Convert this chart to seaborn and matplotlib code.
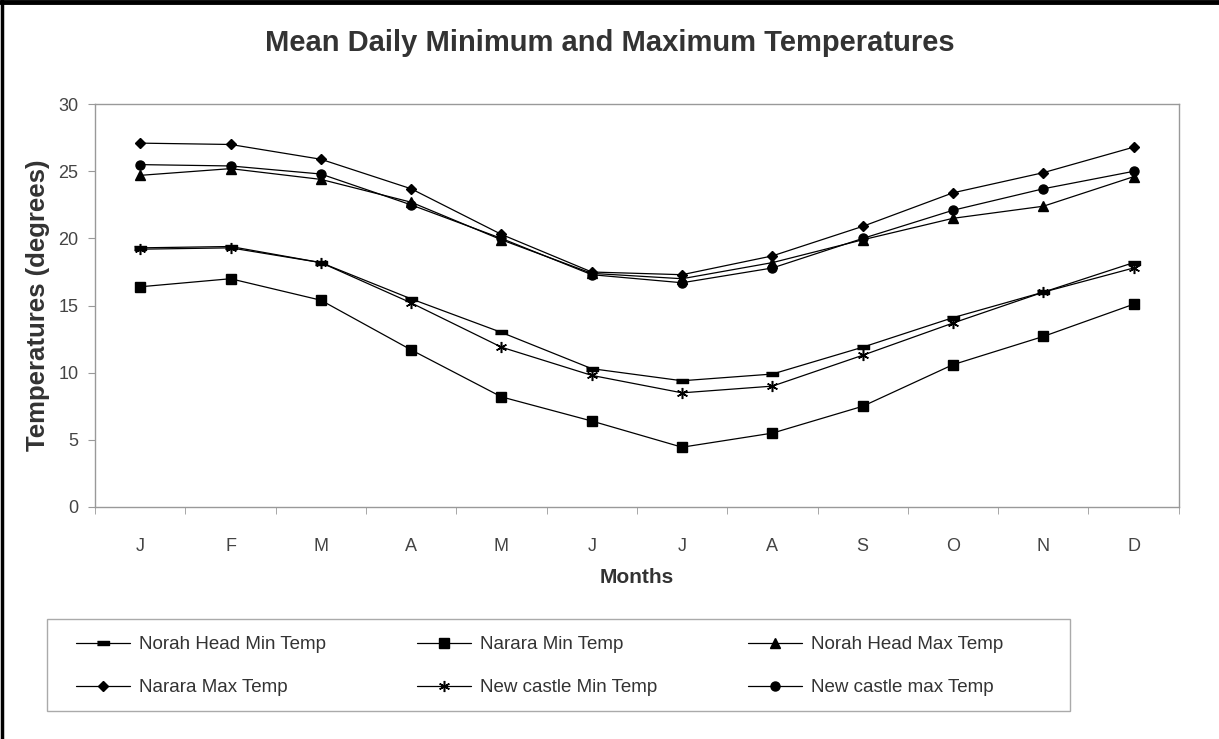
import pandas as pd
import numpy as np
import matplotlib
matplotlib.use('Agg')
import matplotlib.pyplot as plt
import seaborn as sns
from matplotlib.lines import Line2D
from matplotlib.patches import Rectangle

months = ['J', 'F', 'M', 'A', 'M', 'J', 'J', 'A', 'S', 'O', 'N', 'D']

norah_min = [19.3, 19.4, 18.2, 15.5, 13.0, 10.3, 9.4, 9.9, 11.9, 14.1, 16.0, 18.2]
narara_min = [16.4, 17.0, 15.4, 11.7, 8.2, 6.4, 4.45, 5.5, 7.5, 10.6, 12.7, 15.1]
norah_max = [24.7, 25.2, 24.4, 22.7, 19.9, 17.4, 17.0, 18.2, 19.9, 21.5, 22.4, 24.6]
narara_max = [27.1, 27.0, 25.9, 23.7, 20.3, 17.5, 17.3, 18.7, 20.9, 23.4, 24.9, 26.8]
newc_min = [19.2, 19.3, 18.2, 15.2, 11.9, 9.8, 8.5, 9.0, 11.3, 13.7, 16.0, 17.8]
newc_max = [25.5, 25.4, 24.8, 22.5, 20.0, 17.3, 16.7, 17.8, 20.0, 22.1, 23.7, 25.0]

series_names = ['Norah Head Min Temp', 'Narara Min Temp', 'Norah Head Max Temp',
                'Narara Max Temp', 'New castle Min Temp', 'New castle max Temp']
series_vals = [norah_min, narara_min, norah_max, narara_max, newc_min, newc_max]

rows = []
for name, vals in zip(series_names, series_vals):
    for i, v in enumerate(vals):
        rows.append({'month': i, 'temp': v, 'series': name})
df = pd.DataFrame(rows)

sns.set_style('white')
plt.rcParams['font.family'] = ['Liberation Sans', 'DejaVu Sans']

dash = [(-1, -0.4), (1, -0.4), (1, 0.4), (-1, 0.4)]
markers = {
    'Norah Head Min Temp': dash,
    'Narara Min Temp': 's',
    'Norah Head Max Temp': '^',
    'Narara Max Temp': 'D',
    'New castle Min Temp': 'X',   # swapped for an asterisk below
    'New castle max Temp': 'o',
}
sizes_pt = {'Norah Head Min Temp': 8, 'Narara Min Temp': 7, 'Norah Head Max Temp': 6.5,
            'Narara Max Temp': 5, 'New castle Min Temp': 8, 'New castle max Temp': 6.5}

fig = plt.figure(figsize=(12.19, 7.39), dpi=100)
ax = fig.add_axes([0.078, 0.314, 0.889, 0.545])

sns.lineplot(data=df, x='month', y='temp', hue='series', style='series',
             palette={n: 'black' for n in series_names}, markers=markers,
             dashes=False, linewidth=0.9, markersize=7, mec='black', mew=1, ax=ax)

handles, labels = ax.get_legend_handles_labels()
hmap = dict(zip(labels, handles))

def fix(line, lab):
    line.set_markersize(sizes_pt[lab])
    if lab == 'New castle Min Temp':
        line.set_marker((6, 2, 0))
        line.set_markeredgewidth(1.1)

# seaborn draws the lines in hue order
for line, lab in zip(ax.lines[:len(series_names)], series_names):
    fix(line, lab)
for lab, h in hmap.items():
    if lab in sizes_pt:
        fix(h, lab)

ax.set_xlim(-0.5, 11.5)
ax.set_ylim(0, 30)
ax.set_yticks(range(0, 31, 5))
ax.set_xticks(range(12))
ax.set_xticklabels(months)
ax.set_xticks(np.arange(-0.5, 12, 1), minor=True)
ax.tick_params(axis='x', which='major', length=0, pad=22, labelsize=13, labelcolor='#444444')
ax.tick_params(axis='x', which='minor', length=5, color='#999999', bottom=True)
ax.tick_params(axis='y', length=5, color='#999999', left=True, pad=7, labelsize=13,
               labelcolor='#444444')
for s in ax.spines.values():
    s.set_color('#999999')
    s.set_linewidth(1)

ax.set_xlabel('Months', fontsize=15, fontweight='bold', color='#333333', labelpad=10)
ax.set_ylabel('Temperatures (degrees)', fontsize=18.5, fontweight='bold', color='#333333',
              labelpad=6)
fig.text(0.5, 1 - 43 / 739, 'Mean Daily Minimum and Maximum Temperatures', fontsize=21,
         fontweight='bold', color='#333333', ha='center', va='center')

order = ['Norah Head Min Temp', 'Narara Max Temp', 'Narara Min Temp',
         'New castle Min Temp', 'Norah Head Max Temp', 'New castle max Temp']
ax.get_legend().remove()
leg = fig.legend([hmap[o] for o in order], order, loc='upper left', ncol=3,
                 bbox_to_anchor=(76 / 1219, 1 - 636 / 739),
                 frameon=False, fontsize=13.5, handlelength=2.9, labelspacing=1.4,
                 borderpad=0, handletextpad=0.45, columnspacing=4.85, borderaxespad=0)
for t in leg.get_texts():
    t.set_color('#333333')

# legend frame
fig.patches.append(Rectangle((47 / 1219, 1 - 711 / 739), (1070 - 47) / 1219, 92 / 739,
                             transform=fig.transFigure, fill=False, edgecolor='#aaaaaa',
                             linewidth=1))

# frame lines on top and left edge of the image only
fig.lines.append(Line2D([0, 1], [0.997, 0.997], transform=fig.transFigure, color='black', lw=3.5))
fig.lines.append(Line2D([0.0015, 0.0015], [0, 1], transform=fig.transFigure, color='black', lw=2.5))

fig.savefig('out.png', dpi=100, facecolor='white')
